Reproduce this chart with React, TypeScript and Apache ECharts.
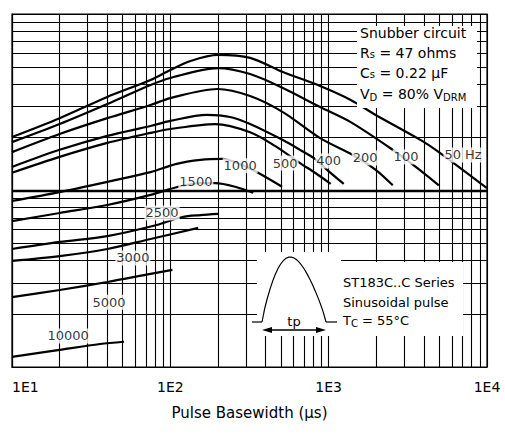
import React, { useEffect, useRef } from "react";
import * as echarts from "echarts";

// Pulse basewidth (µs) and peak current (A), one pair of arrays per frequency
const w50 = [10, 20, 40, 75, 100, 134, 200, 319, 514, 883, 1378, 1982, 3820, 4963, 10000];
const i50 = [2010, 2570, 3390, 4230, 4820, 5420, 5860, 5640, 4690, 3910, 3260, 2680, 1930, 1650, 1030];
const w100 = [10, 20, 40, 75, 100, 200, 319, 514, 883, 1378, 2540, 3550, 4963];
const i100 = [1880, 2380, 3090, 3960, 4340, 4940, 4570, 3810, 2970, 2440, 1700, 1360, 1070];
const w200 = [10, 20, 40, 75, 100, 198, 319, 514, 883, 1419, 1982, 2540];
const i200 = [1650, 2090, 2570, 3050, 3340, 3760, 3430, 2780, 1980, 1590, 1310, 1070];
const w400 = [10, 20, 40, 75, 100, 170, 238, 319, 514, 659, 820, 977, 1245];
const i400 = [1360, 1700, 2040, 2320, 2480, 2680, 2610, 2380, 1930, 1700, 1510, 1310, 1090];
const w500 = [10, 20, 40, 75, 100, 192, 319, 458, 659, 820, 1030];
const i500 = [1260, 1550, 1860, 2120, 2230, 2380, 2140, 1790, 1430, 1260, 1090];
const w1000 = [10, 20, 40, 75, 108, 155, 212, 277, 358, 508];
const i1000 = [873, 980, 1120, 1270, 1410, 1490, 1510, 1410, 1260, 1050];
const w1500 = [10, 20, 40, 75, 112, 155, 192, 257, 334];
const i1500 = [671, 746, 828, 944, 1050, 1100, 1100, 1050, 970];
const w2500 = [10, 20, 40, 82, 119, 155, 200];
const i2500 = [466, 511, 552, 638, 708, 726, 737];
const w3000 = [10, 20, 40, 75, 150];
const i3000 = [399, 425, 466, 531, 614];
const w5000 = [10, 20, 40, 75, 103];
const i5000 = [249, 273, 303, 337, 355];
const w10000 = [10, 20, 36, 51];
const i10000 = [114, 125, 135, 139];

// Curve labels (frequency) and their anchor positions in data units
const labelNames = ["50 Hz", "100", "200", "400", "500", "1000", "1500", "2500", "3000", "5000", "10000"];
const labelX = [7060, 3080, 1700, 1000, 531, 276, 145, 88.7, 58, 41, 22.6];
const labelY = [1590, 1550, 1530, 1470, 1430, 1380, 1120, 746, 415, 233, 150];

// Minor grid values
const xMinor = [20, 30, 40, 50, 60, 70, 80, 90, 200, 300, 400, 500, 600, 700, 800, 900, 2000, 3000, 4000, 5000, 6000, 7000, 8000, 9000];
const yMinor = [200, 300, 400, 500, 600, 700, 800, 900, 2000, 3000, 4000, 5000, 6000, 7000, 8000, 9000];

const FONT = "DejaVu Sans";

const curves: [number[], number[]][] = [
  [w50, i50], [w100, i100], [w200, i200], [w400, i400], [w500, i500], [w1000, i1000],
  [w1500, i1500], [w2500, i2500], [w3000, i3000], [w5000, i5000], [w10000, i10000],
];

function pulsePoints(): number[][] {
  const pts: number[][] = [];
  for (let k = 0; k <= 24; k++) {
    const t = k / 24;
    const skew = t + 0.06 * Math.sin(Math.PI * t);
    pts.push([262 + 64 * t, 322 - 65 * Math.pow(Math.sin(Math.PI * skew), 0.85)]);
  }
  return pts;
}

export default function App() {
  const ref = useRef<HTMLDivElement>(null);
  useEffect(() => {
    if (!ref.current) return;
    const chart = echarts.init(ref.current, null, { renderer: "svg" });
    const series: any[] = curves.map(([w, c], idx) => ({
      type: "line",
      data: w.map((x, j) => [x, c[j]]),
      showSymbol: false,
      smooth: 0.3,
      lineStyle: { color: "#000", width: 2.2 },
      z: 3,
      silent: true,
      ...(idx === 0
        ? {
            markLine: {
              silent: true,
              symbol: ["none", "none"],
              label: { show: false },
              lineStyle: { color: "#000", width: 1.1, type: "solid" },
              z: 2,
              data: [
                ...xMinor.map((v) => ({ xAxis: v })),
                ...yMinor.map((v) => ({ yAxis: v })),
                { yAxis: 1000, lineStyle: { width: 2.4, color: "#000", type: "solid" } },
              ],
            },
          }
        : {}),
    }));
    series.push({
      type: "scatter",
      data: labelNames.map((n, j) => ({ name: n, value: [labelX[j], labelY[j]] })),
      symbolSize: 0,
      z: 10,
      silent: true,
      label: {
        show: true,
        position: "inside",
        formatter: "{b}",
        color: "#000",
        fontSize: 13,
        fontFamily: FONT,
        backgroundColor: "#fff",
        padding: [1, 1],
      },
    });

    const sub = { fontSize: 10, fontFamily: FONT, color: "#000", padding: [6, 0, 0, 0] };
    const base = { fontSize: 14, fontFamily: FONT, color: "#000" };
    const base13 = { fontSize: 13, fontFamily: FONT, color: "#000" };

    chart.setOption({
      animation: false,
      textStyle: { fontFamily: FONT },
      grid: { left: 12, right: 18, top: 14, bottom: 67, show: true, borderColor: "#000", borderWidth: 1.2 },
      xAxis: {
        type: "log",
        logBase: 10,
        min: 10,
        max: 10000,
        name: "Pulse Basewidth (µs)",
        nameLocation: "middle",
        nameGap: 38,
        nameTextStyle: { fontSize: 15, color: "#000", fontFamily: FONT },
        axisLine: { show: true, lineStyle: { color: "#000", width: 1.2 } },
        axisTick: { show: false },
        splitLine: { show: true, lineStyle: { color: "#000", width: 1.1 } },
        axisLabel: {
          color: "#000",
          fontSize: 14,
          fontFamily: FONT,
          margin: 13,
          alignMinLabel: "left",
          formatter: (v: number) => "1E" + Math.round(Math.log10(v)),
        },
      },
      yAxis: {
        type: "log",
        logBase: 10,
        min: 100,
        max: 10000,
        axisLine: { show: true, lineStyle: { color: "#000", width: 1.2 } },
        axisTick: { show: false },
        axisLabel: { show: false },
        splitLine: { show: true, lineStyle: { color: "#000", width: 1.1 } },
      },
      series,
      graphic: [
        { type: "rect", z: 100, shape: { x: 357, y: 26, width: 120, height: 82 }, style: { fill: "#fff" } },
        { type: "text", z: 101, x: 360, y: 33, style: { text: "Snubber circuit", ...base, verticalAlign: "middle" } },
        {
          type: "text", z: 101, x: 360, y: 53,
          style: { text: "R{s|s} = 47 ohms", ...base, verticalAlign: "middle", rich: { s: { ...sub, padding: [3, 0, 0, 0] } } },
        },
        {
          type: "text", z: 101, x: 360, y: 73,
          style: { text: "C{s|s} = 0.22 µF", ...base, verticalAlign: "middle", rich: { s: { ...sub, padding: [3, 0, 0, 0] } } },
        },
        {
          type: "text", z: 101, x: 360, y: 94,
          style: { text: "V{s|D} = 80% V{s|DRM}", ...base, verticalAlign: "middle", rich: { s: sub } },
        },
        { type: "rect", z: 100, shape: { x: 257, y: 252, width: 84, height: 84 }, style: { fill: "#fff" } },
        { type: "rect", z: 100, shape: { x: 340, y: 262, width: 123, height: 74 }, style: { fill: "#fff" } },
        { type: "polyline", z: 101, shape: { points: pulsePoints() }, style: { stroke: "#000", lineWidth: 1.2, fill: "none" } },
        { type: "line", z: 101, shape: { x1: 252, y1: 322, x2: 262, y2: 322 }, style: { stroke: "#000", lineWidth: 1.2 } },
        { type: "line", z: 101, shape: { x1: 326, y1: 322, x2: 337, y2: 322 }, style: { stroke: "#000", lineWidth: 1.2 } },
        { type: "line", z: 101, shape: { x1: 266, y1: 330, x2: 322, y2: 330 }, style: { stroke: "#000", lineWidth: 1.5 } },
        { type: "polygon", z: 101, shape: { points: [[262, 330], [272, 327], [272, 333]] }, style: { fill: "#000" } },
        { type: "polygon", z: 101, shape: { points: [[326, 330], [316, 327], [316, 333]] }, style: { fill: "#000" } },
        { type: "text", z: 101, x: 294, y: 321, style: { text: "tp", ...base13, align: "center", verticalAlign: "middle" } },
        { type: "text", z: 101, x: 343, y: 282, style: { text: "ST183C..C Series", ...base13, verticalAlign: "middle" } },
        { type: "text", z: 101, x: 343, y: 302, style: { text: "Sinusoidal pulse", ...base13, verticalAlign: "middle" } },
        {
          type: "text", z: 101, x: 343, y: 320,
          style: { text: "T{s|C} = 55°C", ...base13, verticalAlign: "middle", rich: { s: sub } },
        },
      ],
    });
    return () => chart.dispose();
  }, []);
  return <div ref={ref} style={{ position: "fixed", left: 0, top: 0, width: 505, height: 434, background: "#fff" }} />;
}
